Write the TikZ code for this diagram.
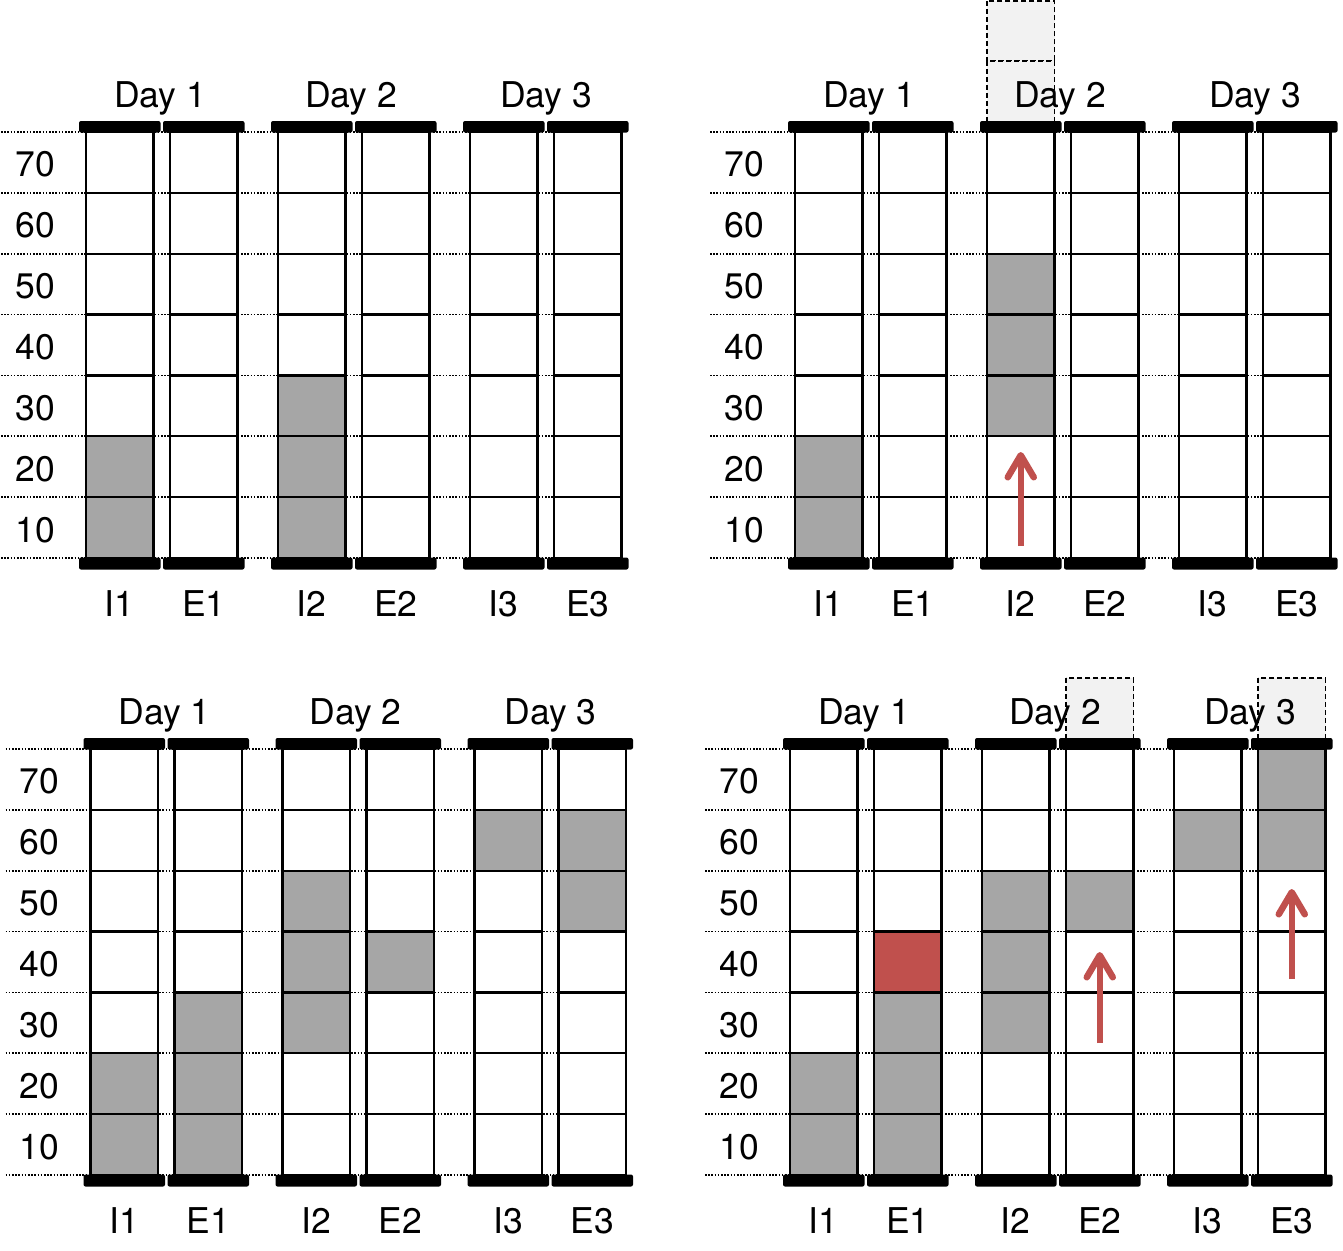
\documentclass[tikz,border=0pt]{standalone}
\usepackage{fontspec}
\setmainfont{TeX Gyre Heros}
\usetikzlibrary{arrows.meta}
\definecolor{cellgray}{HTML}{A6A6A6}
\definecolor{cellred}{HTML}{C0504D}
\definecolor{ghost}{HTML}{F2F2F2}
\tikzset{
  gridline/.style={line width=2.2pt, draw=black},
  guide/.style={line width=1.7pt, dash pattern=on 1.6pt off 1.6pt, black},
  barstyle/.style={fill=black, rounded corners=2pt},
  ghostcell/.style={fill=ghost, draw=black, line width=1.5pt, dash pattern=on 5pt off 3pt},
  lbl/.style={font=\fontsize{35.5}{40}\selectfont, inner sep=0pt, anchor=base},
  moveup/.style={draw=cellred, line width=6.5pt, -{Straight Barb[length=22pt,width=26pt,round]}},
}
\newcommand{\drawpanel}[4]{%
\begin{scope}[shift={(#2,#3)}]
  \foreach \k in {0,...,7} \draw[guide] (1,{132+\k*60.857}) -- (621,{132+\k*60.857});
  \foreach \xl in {86,170,278,362,470,554} \fill[white] (\xl,132) rectangle ++(67.5,426);
  \foreach \c/\r/\cc in {#4} {%
    \pgfmathsetmacro\xl{86+84*mod(\c,2)+192*floor(\c/2)}
    \fill[\cc] (\xl,{558-\r*60.857}) rectangle ++(67.5,60.857);}
  \foreach \xl in {86,170,278,362,470,554} {%
    \foreach \k in {1,...,6} \draw[gridline] (\xl,{132+\k*60.857}) -- ++(67.5,0);
    \draw[gridline] (\xl,132) rectangle ++(67.5,426);
    \fill[barstyle] ({\xl-7},121) rectangle ({\xl+74.5},132.5);
    \fill[barstyle] ({\xl-7},557.5) rectangle ({\xl+74.5},569.5);
  }
  \node[lbl] (#1-d1) at (160,107) {Day 1};
  \node[lbl] (#1-d2) at (351,107) {Day 2};
  \node[lbl] (#1-d3) at (546,107) {Day 3};
  \foreach \v [count=\i] in {70,60,50,40,30,20,10}
    \node[lbl] (#1-r\v) at (35,{132+(\i-0.5)*60.857+14.5}) {\v};
  \foreach \t/\xl in {I1/86,E1/170,I2/278,E2/362,I3/470,E3/554}
    \node[lbl] (#1-\t) at ({\xl+33.75},616) {\t};
\end{scope}}
\begin{document}
\begin{tikzpicture}[x=1pt,y=-1pt]
\useasboundingbox (0,0) rectangle (1343,1250);
% top-left
\drawpanel{tl}{0}{0}{0/1/cellgray,0/2/cellgray,2/1/cellgray,2/2/cellgray,2/3/cellgray}
% top-right
\begin{scope}[shift={(709,0)}]
  \draw[ghostcell] (278,0.8) rectangle (345.5,60.86);
  \draw[ghostcell] (278,60.86) rectangle (345.5,121.5);
\end{scope}
\drawpanel{tr}{709}{0}{0/1/cellgray,0/2/cellgray,2/3/cellgray,2/4/cellgray,2/5/cellgray}
\begin{scope}[shift={(709,0)}]
  \coordinate (tr-from) at (311.75,546);
  \coordinate (tr-to) at (311.75,452);
  \draw[moveup] (tr-from) -- (tr-to);
\end{scope}
% bottom-left
\drawpanel{bl}{4.5}{617}{0/1/cellgray,0/2/cellgray,1/1/cellgray,1/2/cellgray,1/3/cellgray,2/3/cellgray,2/4/cellgray,2/5/cellgray,3/4/cellgray,4/6/cellgray,5/5/cellgray,5/6/cellgray}
% bottom-right
\begin{scope}[shift={(704,617)}]
  \draw[ghostcell] (362,61) rectangle (429.5,121.5);
  \draw[ghostcell] (554,61) rectangle (621.5,121.5);
\end{scope}
\drawpanel{br}{704}{617}{0/1/cellgray,0/2/cellgray,1/1/cellgray,1/2/cellgray,1/3/cellgray,1/4/cellred,2/3/cellgray,2/4/cellgray,2/5/cellgray,3/5/cellgray,4/6/cellgray,5/6/cellgray,5/7/cellgray}
\begin{scope}[shift={(704,617)}]
  \coordinate (br-e2-from) at (395.75,426);
  \coordinate (br-e2-to) at (395.75,335);
  \draw[moveup] (br-e2-from) -- (br-e2-to);
  \coordinate (br-e3-from) at (587.75,362);
  \coordinate (br-e3-to) at (587.75,272);
  \draw[moveup] (br-e3-from) -- (br-e3-to);
\end{scope}
\end{tikzpicture}
\end{document}
